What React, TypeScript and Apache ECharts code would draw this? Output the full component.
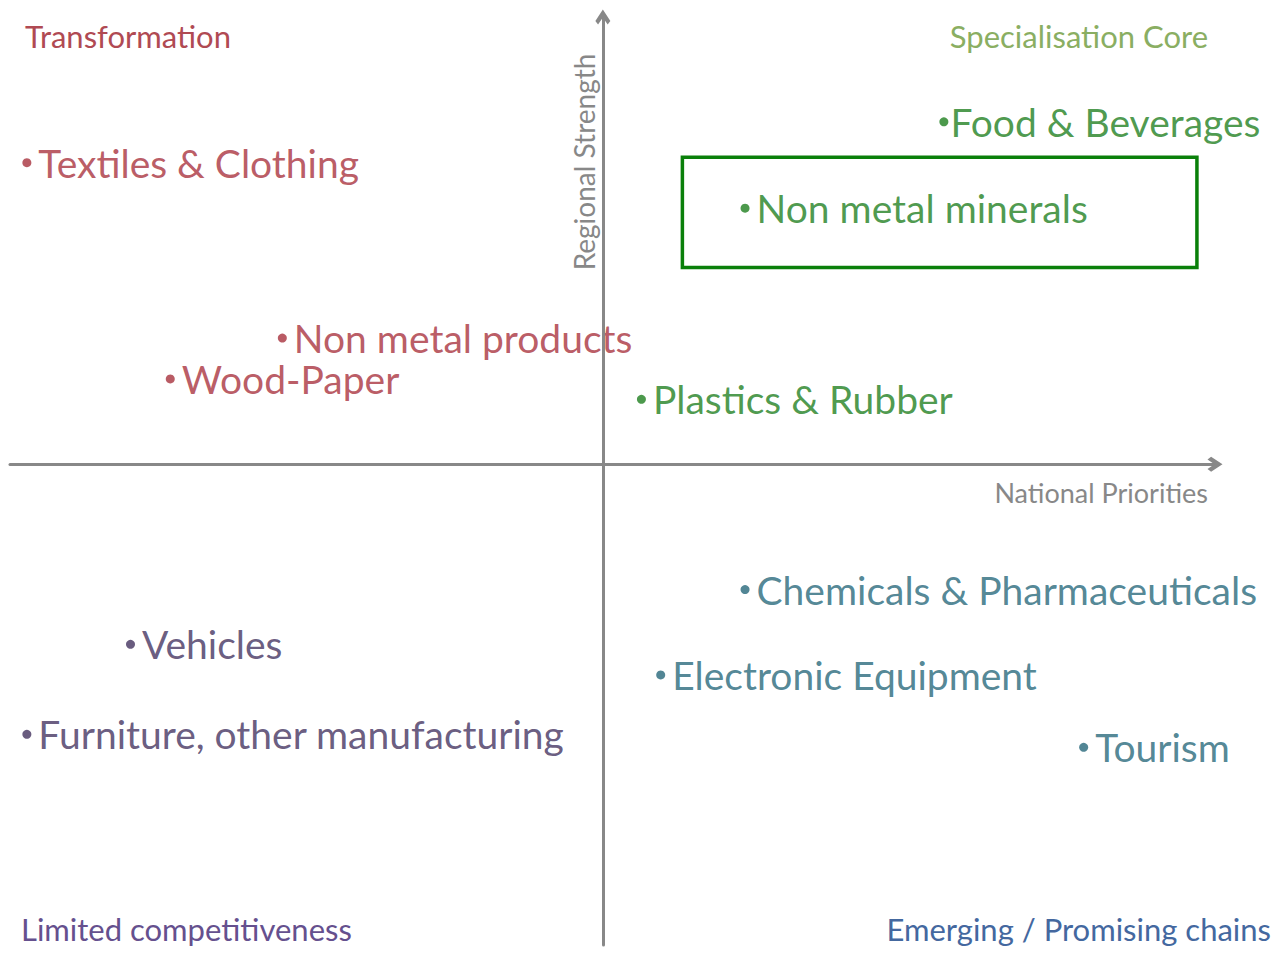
import React, { useEffect, useRef } from "react";
import * as echarts from "echarts";

// Axis extents (data units; origin is where the two arrows cross)
const X_MIN = -49.2;
const X_MAX = 50.8;
const Y_MIN = -51.8;
const Y_MAX = 48.2;

const axisNames = { x: "National Priorities", y: "Regional Strength" };

const quadrantTitles = [
  "Transformation",
  "Specialisation Core",
  "Limited competitiveness",
  "Emerging / Promising chains",
];

// [national priorities, regional strength, sector]
const transformation: [number, number, string][] = [
  [-47.8, 32.5, "Textiles & Clothing"],
  [-26.6, 13.6, "Non metal products"],
  [-35.9, 9.2, "Wood-Paper"],
];
const specialisationCore: [number, number, string][] = [
  [28.3, 36.9, "Food & Beverages"],
  [11.8, 27.6, "Non metal minerals"],
  [3.2, 7.0, "Plastics & Rubber"],
];
const emerging: [number, number, string][] = [
  [11.8, -13.5, "Chemicals & Pharmaceuticals"],
  [4.8, -22.7, "Electronic Equipment"],
  [39.9, -30.5, "Tourism"],
];
const limited: [number, number, string][] = [
  [-39.2, -19.4, "Vehicles"],
  [-47.8, -29.1, "Furniture, other manufacturing"],
];

// highlighted sector box: [x0, y0], [x1, y1]
const highlightBox: [[number, number], [number, number]] = [
  [6.6, 33.1],
  [49.3, 21.2],
];

const FONT = "Lato, 'Open Sans', sans-serif";
const AXIS_COLOR = "#888888";
const CHEVRON = "path://M5,0 L10,7.6 L8.2,10 L5,5.4 L1.8,10 L0,7.6 Z";

function makeSeries(name: string, data: [number, number, string][], color: string, tight?: string) {
  return {
    type: "scatter",
    name,
    symbol: "circle",
    symbolSize: 9,
    itemStyle: { color },
    data: data.map((d) => ({
      value: d,
      label: d[2] === tight ? { distance: 2 } : undefined,
    })),
    label: {
      show: true,
      position: "right",
      distance: 7,
      color,
      fontFamily: FONT,
      fontSize: 39,
      formatter: (p: any) => p.value[2],
    },
    z: 2,
  };
}

export default function App() {
  const ref = useRef<HTMLDivElement>(null);
  useEffect(() => {
    document.body.style.margin = "0";
    const chart = echarts.init(ref.current!, undefined, { renderer: "svg" });
    const titleStyle = (color: string) => ({ fill: color, fontFamily: FONT, fontSize: 31 });
    chart.setOption({
      animation: false,
      backgroundColor: "#ffffff",
      grid: { left: 10, right: 61, top: 17, bottom: 8, containLabel: false },
      xAxis: {
        type: "value",
        min: X_MIN,
        max: X_MAX,
        z: 5,
        name: axisNames.x,
        nameLocation: "end",
        nameGap: -7,
        nameTextStyle: {
          align: "right",
          verticalAlign: "top",
          padding: [15, 0, 0, 0],
          color: "#888888",
          fontFamily: FONT,
          fontSize: 27,
        },
        axisLine: {
          onZero: true,
          symbol: ["none", CHEVRON],
          symbolSize: [20, 15],
          lineStyle: { color: AXIS_COLOR, width: 3 },
        },
        axisTick: { show: false },
        axisLabel: { show: false },
        splitLine: { show: false },
      },
      yAxis: {
        type: "value",
        min: Y_MIN,
        max: Y_MAX,
        z: 5,
        axisLine: {
          onZero: true,
          symbol: ["none", CHEVRON],
          symbolSize: [20, 15],
          lineStyle: { color: AXIS_COLOR, width: 3 },
        },
        axisTick: { show: false },
        axisLabel: { show: false },
        splitLine: { show: false },
      },
      graphic: [
        {
          type: "text",
          x: 584,
          y: 162,
          rotation: Math.PI / 2,
          style: {
            text: axisNames.y,
            fill: "#888888",
            fontFamily: FONT,
            fontSize: 28,
            textAlign: "center",
            textVerticalAlign: "middle",
          },
        },
        { type: "text", left: 25, top: 20, style: { text: quadrantTitles[0], ...titleStyle("#b04a53") } },
        { type: "text", right: 68, top: 20, style: { text: quadrantTitles[1], ...titleStyle("#8aae62") } },
        { type: "text", left: 21, top: 913, style: { text: quadrantTitles[2], ...titleStyle("#65508e") } },
        { type: "text", right: 5, top: 913, style: { text: quadrantTitles[3], ...titleStyle("#44689f") } },
      ],
      series: [
        makeSeries("Transformation", transformation, "#a8323d"),
        {
          ...makeSeries("Specialisation Core", specialisationCore, "#1f7f1f", "Food & Beverages"),
          markArea: {
            silent: true,
            itemStyle: { color: "rgba(0,0,0,0)", borderColor: "#0a800a", borderWidth: 3.5 },
            data: [[{ coord: highlightBox[0] }, { coord: highlightBox[1] }]],
          },
        },
        makeSeries("Emerging / Promising chains", emerging, "#27687b"),
        makeSeries("Limited competitiveness", limited, "#43335f"),
      ],
    });
    return () => chart.dispose();
  }, []);
  return <div ref={ref} style={{ width: 1276, height: 953 }} />;
}
